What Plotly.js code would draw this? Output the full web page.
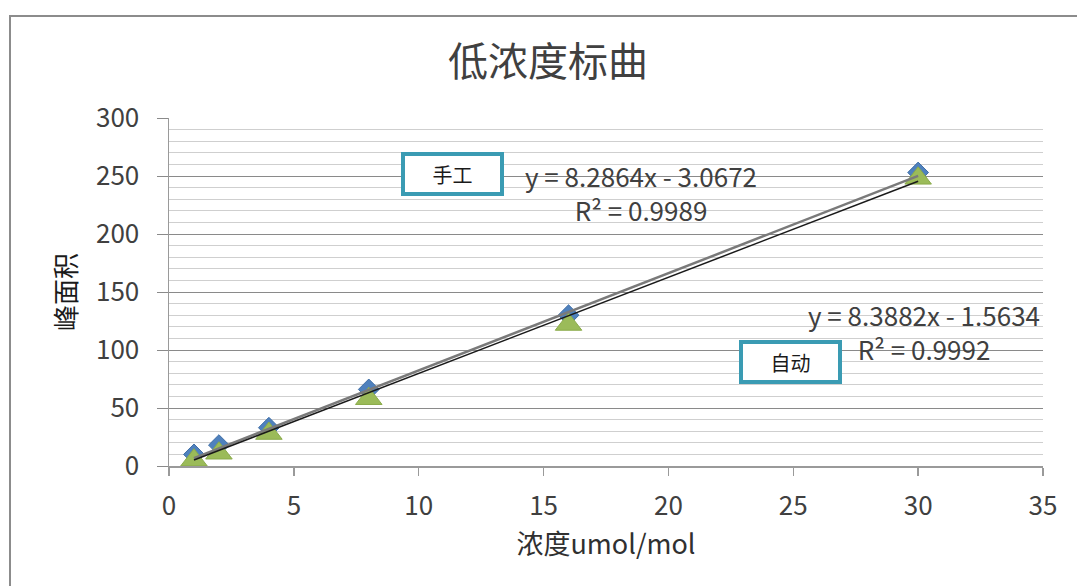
<!DOCTYPE html>
<html>
<head>
<meta charset="utf-8">
<script src="https://cdn.plot.ly/plotly-3.0.1.min.js"></script>
<style>
  html, body { margin: 0; padding: 0; background: #ffffff; overflow: hidden; }
  #wrap { position: relative; width: 1077px; height: 586px; }
  #chart { position: absolute; left: 0; top: 0; width: 1077px; height: 586px; }
  #frame { position: absolute; left: 9px; top: 15px; width: 1200px; height: 700px;
           border: 2.5px solid #8c8c8c; pointer-events: none; }
</style>
</head>
<body>
<div id="wrap">
  <div id="chart"></div>
  <div id="frame"></div>
</div>
<script>
// ---- data ----
const chartTitle = '低浓度标曲';
const xTitle = '浓度umol/mol';
const yTitle = '峰面积';
const concentrations = [1, 2, 4, 8, 16, 30];
const manualArea = [10, 18, 33, 66, 130, 253];   // 手工 (blue diamonds)
const autoArea   = [5, 11, 28, 58, 122, 248];    // 自动 (green triangles)
const seriesNames = ['手工', '自动'];
const trendSlopes = [8.2864, 8.3882];
const trendIntercepts = [-3.0672, -1.5634];
const trendR2 = ['0.9989', '0.9992'];
const xTickVals = [0, 5, 10, 15, 20, 25, 30, 35];
const yTickVals = [0, 50, 100, 150, 200, 250, 300];

// ---- trendlines computed from the fitted coefficients over the data range ----
const xMin = Math.min(...concentrations), xMax = Math.max(...concentrations);
function trendY(i, x) { return trendSlopes[i] * x + trendIntercepts[i]; }
function eqText(i) {
  const b = trendIntercepts[i];
  return 'y = ' + trendSlopes[i].toFixed(4) + 'x ' + (b < 0 ? '- ' : '+ ') + Math.abs(b).toFixed(4) +
         '<br>R² = ' + trendR2[i];
}

const FONT = '"Noto Sans CJK SC", "Noto Sans", sans-serif';
const TXT = '#404040';

const traces = [
  { x: concentrations, y: manualArea, name: seriesNames[0], type: 'scatter', mode: 'markers',
    marker: { symbol: 'diamond', size: 16, color: '#4f81bd', line: { color: '#3f6ea6', width: 1 } } },
  { x: concentrations, y: autoArea, name: seriesNames[1], type: 'scatter', mode: 'markers',
    marker: { symbol: 'triangle-up', size: 23, color: '#9bbb59', line: { color: '#8aab4a', width: 1 } } },
  { x: [xMin, xMax], y: [trendY(1, xMin), trendY(1, xMax)], type: 'scatter', mode: 'lines',
    name: seriesNames[1] + ' trend', line: { color: '#7a7a7a', width: 2.5 } },
  { x: [xMin, xMax], y: [trendY(0, xMin), trendY(0, xMax)], type: 'scatter', mode: 'lines',
    name: seriesNames[0] + ' trend', line: { color: '#1a1a1a', width: 1.5 } }
];

// plot-area pixel geometry helpers (positions only)
const L = 169, T = 118, W = 874, H = 348;
const px = v => (v - L) / W;
const py = v => (T + H - v) / H;

const boxStyle = { bordercolor: '#3a9bb3', borderwidth: 4, borderpad: 0, bgcolor: '#ffffff',
                   width: 95, height: 36, font: { family: FONT, size: 20, color: '#1a1a1a' } };

const layout = {
  width: 1077, height: 586,
  paper_bgcolor: '#ffffff', plot_bgcolor: '#ffffff',
  margin: { l: L, r: 1077 - L - W, t: T, b: 586 - T - H },
  showlegend: false,
  font: { family: FONT, color: TXT },
  title: { text: chartTitle, font: { family: FONT, size: 40, color: '#404040' },
           xref: 'container', yref: 'container', x: 548 / 1077, y: 1 - 62 / 586,
           xanchor: 'center', yanchor: 'middle' },
  xaxis: {
    range: [0, 35], tickvals: xTickVals, showgrid: false, zeroline: false,
    showline: true, linecolor: '#9a9a9a', linewidth: 1.5,
    ticks: 'outside', ticklen: 8, tickcolor: '#9a9a9a', tickwidth: 1.5,
    tickfont: { family: FONT, size: 26, color: TXT }, ticklabelstandoff: 8,
    title: { text: xTitle, font: { family: FONT, size: 27, color: '#303030' }, standoff: 14 }
  },
  yaxis: {
    range: [0, 300], tickvals: yTickVals, showgrid: true, gridcolor: '#8a8a8a', gridwidth: 1,
    zeroline: false, showline: true, linecolor: '#9a9a9a', linewidth: 1.5,
    ticks: 'outside', ticklen: 11, tickcolor: '#8a8a8a', tickwidth: 1,
    tickfont: { family: FONT, size: 26, color: TXT }, ticklabelstandoff: 12,
    minor: { dtick: 10, showgrid: true, gridcolor: '#cfcfcf', gridwidth: 1 },
    title: { text: yTitle, font: { family: FONT, size: 26, color: '#1a1a1a' }, standoff: 12 }
  },
  annotations: [
    Object.assign({ xref: 'paper', yref: 'paper', x: px(452.5), y: py(173.5), text: seriesNames[0],
                    showarrow: false, xanchor: 'center', yanchor: 'middle' }, boxStyle),
    Object.assign({ xref: 'paper', yref: 'paper', x: px(790.5), y: py(361.5), text: seriesNames[1],
                    showarrow: false, xanchor: 'center', yanchor: 'middle' }, boxStyle),
    { xref: 'paper', yref: 'paper', x: px(641), y: py(192), text: eqText(0), showarrow: false,
      xanchor: 'center', yanchor: 'middle', align: 'center',
      font: { family: FONT, size: 26, color: TXT } },
    { xref: 'paper', yref: 'paper', x: px(924), y: py(331), text: eqText(1), showarrow: false,
      xanchor: 'center', yanchor: 'middle', align: 'center',
      font: { family: FONT, size: 26, color: TXT } }
  ]
};

Plotly.newPlot('chart', traces, layout, { displayModeBar: false, staticPlot: true });
</script>
</body>
</html>
